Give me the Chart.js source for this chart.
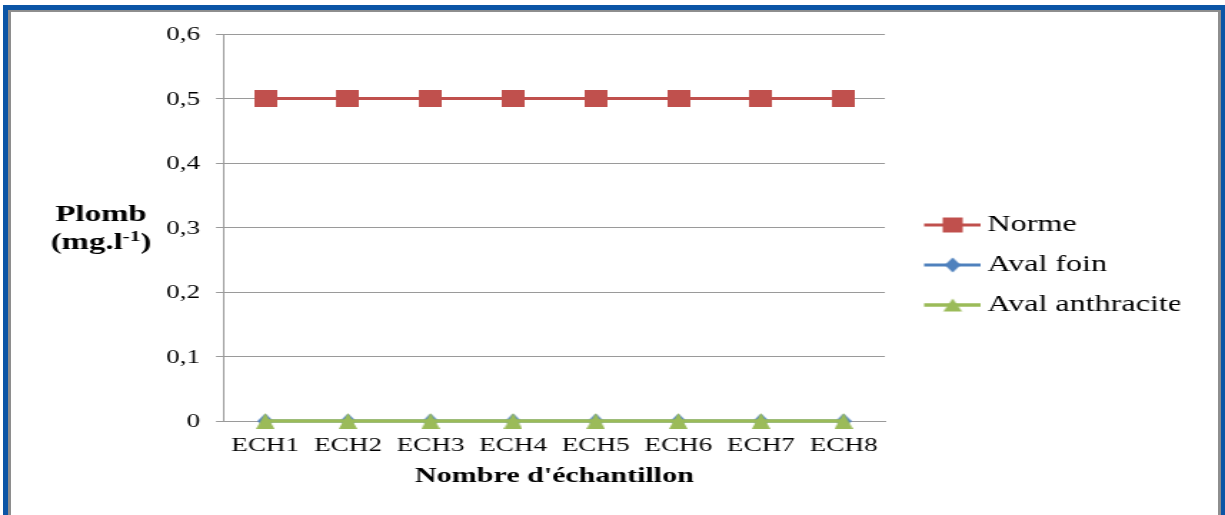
<!DOCTYPE html>
<html lang="fr">
<head>
<meta charset="utf-8">
<title>Plomb – Nombre d'échantillon</title>
<script src="https://cdn.jsdelivr.net/npm/chart.js@4.4.1/dist/chart.umd.min.js"></script>
<style>
  html, body { margin: 0; padding: 0; background: #fff; overflow: hidden; width: 1225px; height: 515px; }
  .frame { position: absolute; left: 3px; top: 5px; width: 1222px; height: 620px; box-sizing: border-box;
           border: 5px solid #0b55a6; border-right-width: 4px; }
  .frame-inner { position: absolute; left: 0; top: 0; right: 0; bottom: 0; border: 3px solid #8e8e8e; border-top-width: 2.5px; }
  /* the chart is laid out on a narrower canvas and widened horizontally */
  .stage { position: absolute; left: 0; top: 0; width: 857px; height: 515px;
           transform-origin: 0 0; transform: scaleX(1.429405); }
  .stage canvas { display: block; }
</style>
</head>
<body>
<div class="frame"><div class="frame-inner"></div></div>
<div class="stage"><canvas id="plomb" width="857" height="515"></canvas></div>
<script>
// ---- data ----
const categories = ['ECH1', 'ECH2', 'ECH3', 'ECH4', 'ECH5', 'ECH6', 'ECH7', 'ECH8'];
const normeValues = [0.5, 0.5, 0.5, 0.5, 0.5, 0.5, 0.5, 0.5];
const avalFoinValues = [0, 0, 0, 0, 0, 0, 0, 0];
const avalAnthraciteValues = [0, 0, 0, 0, 0, 0, 0, 0];
const seriesNames = ['Norme', 'Aval foin', 'Aval anthracite'];
const yTickLabels = ['0', '0,1', '0,2', '0,3', '0,4', '0,5', '0,6'];
const xAxisTitle = "Nombre d'échantillon";
const yAxisTitle = 'Plomb';
const yAxisUnit = ['(mg.l', '-1', ')'];

// ---- styling ----
const SERIF = '"Liberation Serif", "Times New Roman", Times, serif';
const colors = { norme: '#C0504D', foin: '#4F81BD', anthracite: '#9BBB59' };
const gridColor = '#9a9a9a';

const CANVAS_W = 857;
const PLOT_LEFT = 156.7;
const PLOT_RIGHT = 618.9;
const LEGEND_FONT = 22.5;
const LEGEND_PAD = 17.5;
const LEGEND_SYMBOL_W = 42.85;

function makeCanvas(w, h) {
  const c = document.createElement('canvas');
  c.width = w; c.height = h;
  return c;
}

function drawMarker(g, shape, cx, cy, w, h, color) {
  g.fillStyle = color;
  g.beginPath();
  if (shape === 'square') {
    g.rect(cx - w / 2, cy - h / 2, w, h);
  } else if (shape === 'diamond') {
    g.moveTo(cx, cy - h / 2); g.lineTo(cx + w / 2, cy);
    g.lineTo(cx, cy + h / 2); g.lineTo(cx - w / 2, cy);
    g.closePath();
  } else {
    g.moveTo(cx, cy - h / 2); g.lineTo(cx + w / 2, cy + h / 2);
    g.lineTo(cx - w / 2, cy + h / 2);
    g.closePath();
  }
  g.fill();
}

function markerImage(shape, w, h, color) {
  const c = makeCanvas(w, h);
  drawMarker(c.getContext('2d'), shape, w / 2, h / 2, w, h, color);
  return c;
}

// legend symbol: a short line segment with the marker in its middle
function legendImage(shape, mw, mh, color, lw) {
  const W = 57, H = 18, x0 = 17, x1 = 57, cy = H / 2;
  const c = makeCanvas(W, H);
  const g = c.getContext('2d');
  g.strokeStyle = color; g.lineWidth = lw;
  g.beginPath(); g.moveTo(x0, cy); g.lineTo(x1, cy); g.stroke();
  drawMarker(g, shape, (x0 + x1) / 2, cy, mw, mh, color);
  return c;
}

const pointImages = [
  markerImage('square', 16, 17, colors.norme),
  markerImage('diamond', 11, 15, colors.foin),
  markerImage('triangle', 13, 16, colors.anthracite)
];
const legendIcons = [
  legendImage('square', 14, 15, colors.norme, 3),
  legendImage('diamond', 11, 15, colors.foin, 3),
  legendImage('triangle', 13, 13, colors.anthracite, 3.5)
];

// first guess at the right padding from the widest legend entry
const measureCtx = makeCanvas(10, 10).getContext('2d');
measureCtx.font = LEGEND_FONT + 'px ' + SERIF;
const widestName = Math.max(...seriesNames.map((n) => measureCtx.measureText(n).width));
const legendWidth = LEGEND_PAD + LEGEND_SYMBOL_W + LEGEND_FONT / 2 + widestName + 10;
const rightPadding = Math.max(0, CANVAS_W - PLOT_RIGHT - legendWidth);

// horizontal two-line title to the left of the value axis
const yTitlePlugin = {
  id: 'yTitle',
  afterDraw(chart) {
    const ctx = chart.ctx;
    const cx = 70.7;
    ctx.save();
    ctx.fillStyle = '#000';
    ctx.textBaseline = 'alphabetic';
    ctx.textAlign = 'center';
    ctx.font = 'bold 23px ' + SERIF;
    ctx.fillText(yAxisTitle, cx, 220.5);

    const mainFont = 'bold 23px ' + SERIF;
    const supFont = 'bold 15px ' + SERIF;
    ctx.font = mainFont; const w0 = ctx.measureText(yAxisUnit[0]).width;
    ctx.font = supFont;  const w1 = ctx.measureText(yAxisUnit[1]).width;
    ctx.font = mainFont; const w2 = ctx.measureText(yAxisUnit[2]).width;
    let x = cx - (w0 + w1 + w2) / 2;
    ctx.textAlign = 'left';
    ctx.font = mainFont; ctx.fillText(yAxisUnit[0], x, 249); x += w0;
    ctx.font = supFont;  ctx.fillText(yAxisUnit[1], x, 241); x += w1;
    ctx.font = mainFont; ctx.fillText(yAxisUnit[2], x, 249);
    ctx.restore();
  }
};

Chart.defaults.font.family = SERIF;
Chart.defaults.color = '#000';

const chart = new Chart(document.getElementById('plomb'), {
  type: 'line',
  data: {
    labels: categories,
    datasets: [
      { label: seriesNames[0], data: normeValues, borderColor: colors.norme, backgroundColor: colors.norme,
        borderWidth: 3, pointStyle: pointImages[0], clip: false, order: 2 },
      { label: seriesNames[1], data: avalFoinValues, borderColor: colors.foin, backgroundColor: colors.foin,
        borderWidth: 3, pointStyle: pointImages[1], clip: false, order: 1 },
      { label: seriesNames[2], data: avalAnthraciteValues, borderColor: colors.anthracite, backgroundColor: colors.anthracite,
        borderWidth: 3.5, pointStyle: pointImages[2], clip: false, order: 0 }
    ]
  },
  options: {
    responsive: false,
    devicePixelRatio: 1,
    animation: false,
    events: [],
    layout: { padding: { top: 34, right: rightPadding, bottom: 19, left: 0 } },
    elements: { line: { tension: 0 } },
    scales: {
      x: {
        offset: true,
        afterFit: (s) => { s.height = 75; },
        grid: { display: false, drawTicks: false },
        border: { display: true, color: gridColor, width: 1 },
        ticks: { color: '#000', font: { size: 19 }, padding: 14, maxRotation: 0, autoSkip: false },
        title: { display: true, text: xAxisTitle, color: '#000',
                 font: { size: 21, weight: 'bold' }, padding: { top: 0, bottom: 6.4 } }
      },
      y: {
        min: 0,
        max: 0.6,
        afterFit: (s) => { s.width = PLOT_LEFT; },
        grid: { color: gridColor, lineWidth: 1, drawTicks: true, tickLength: 5.6, tickColor: gridColor },
        border: { display: true, color: gridColor, width: 1 },
        ticks: { stepSize: 0.1, padding: 11.2, labelOffset: 1.5, color: '#000', font: { size: 19 },
                 callback: (v, i) => yTickLabels[i] }
      }
    },
    plugins: {
      tooltip: { enabled: false },
      legend: {
        position: 'right',
        align: 'center',
        labels: {
          usePointStyle: true,
          pointStyleWidth: LEGEND_SYMBOL_W,
          padding: LEGEND_PAD,
          color: '#000',
          font: { size: LEGEND_FONT },
          generateLabels: (c) => c.data.datasets.map((ds, i) => ({
            text: ds.label,
            datasetIndex: i,
            pointStyle: legendIcons[i],
            fillStyle: ds.borderColor,
            strokeStyle: ds.borderColor,
            lineWidth: 0,
            hidden: !c.isDatasetVisible(i),
            fontColor: '#000'
          }))
        }
      }
    }
  },
  plugins: [yTitlePlugin]
});

// settle the plot's right edge once the legend has been measured by the chart itself
for (let pass = 0; pass < 4; pass++) {
  const overshoot = chart.chartArea.right - PLOT_RIGHT;
  if (Math.abs(overshoot) < 0.2 || Math.abs(overshoot) > 40) break;
  chart.options.layout.padding.right = Math.max(0, chart.options.layout.padding.right + overshoot);
  chart.update('none');
}
</script>
</body>
</html>
